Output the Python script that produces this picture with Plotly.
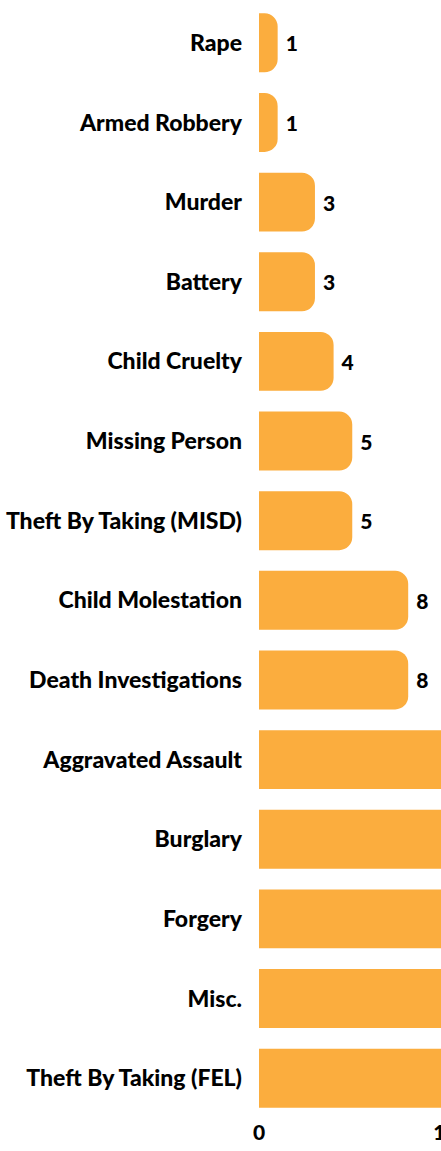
import plotly.graph_objects as go

categories = ["Rape", "Armed Robbery", "Murder", "Battery", "Child Cruelty",
              "Missing Person", "Theft By Taking (MISD)", "Child Molestation",
              "Death Investigations", "Aggravated Assault", "Burglary", "Forgery",
              "Misc.", "Theft By Taking (FEL)"]
values = [1, 1, 3, 3, 4, 5, 5, 8, 8, 11, 12, 13, 15, 17]
tick_vals = [0, 10]
tick_text = ["0", "10"]

BAR = "#FBAD3E"
FONT = "Lato"

PX_PER_UNIT = 18.65
WINDOW_W = 441
FIG_W, FIG_H = 470, 1151
M_L, M_R, M_T, M_B = 259, 0, 3, 33
x_max = (FIG_W - M_L - M_R) / PX_PER_UNIT

# value labels of bars running past the right edge of the page are off-screen in the reference
positions = ["outside" if M_L + v * PX_PER_UNIT + 30 < WINDOW_W else "none" for v in values]

fig = go.Figure(go.Bar(
    y=categories, x=values, orientation="h",
    marker=dict(color=BAR, cornerradius=13, line=dict(width=0)),
    texttemplate="\u00a0%{x}", textposition=positions,
    textfont=dict(family=FONT, size=21, color="#000000", weight=900),
    cliponaxis=True, width=0.74, hoverinfo="skip",
))

fig.update_layout(
    width=FIG_W, height=FIG_H,
    margin=dict(l=M_L, r=M_R, t=M_T, b=M_B),
    plot_bgcolor="white", paper_bgcolor="white",
    showlegend=False,
    font=dict(family=FONT, size=23, color="#000000", weight=900),
    xaxis=dict(range=[0, x_max], showgrid=False, zeroline=False, showline=False,
               tickvals=tick_vals, ticktext=tick_text, ticks="",
               tickfont=dict(family=FONT, size=21, color="#000000", weight=900)),
    yaxis=dict(autorange="reversed", showgrid=False, showline=False, ticks="",
               ticklabelstandoff=16,
               tickfont=dict(family=FONT, size=23, color="#000000", weight=900)),
)

fig.write_html("out.html", config={"displayModeBar": False},
               post_script="document.body.style.margin='0';document.body.style.overflow='hidden';")
